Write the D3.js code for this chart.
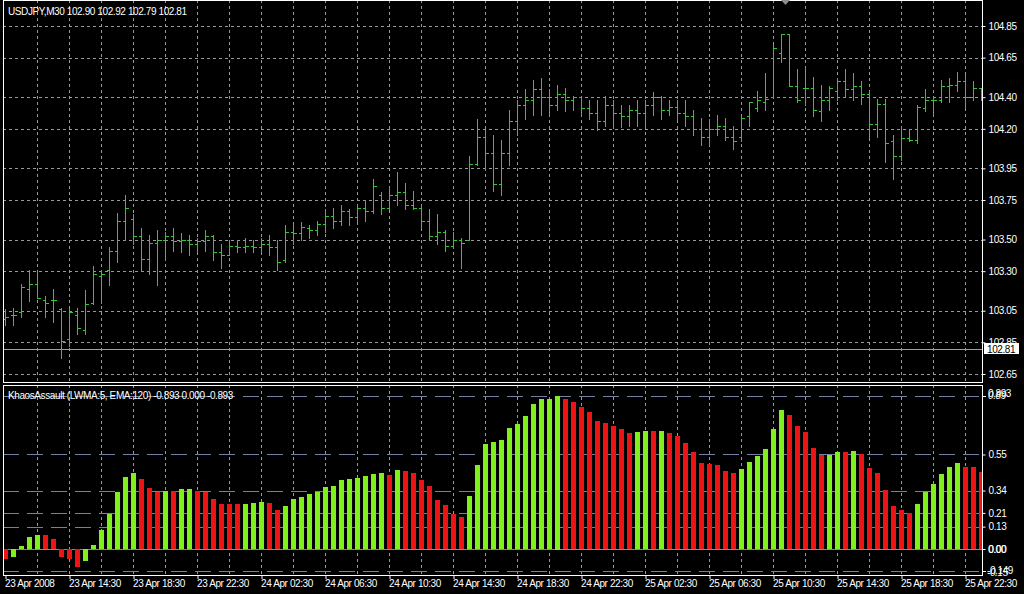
<!DOCTYPE html>
<html><head><meta charset="utf-8">
<script src="https://cdn.jsdelivr.net/npm/d3@7"></script>
<style>
html,body{margin:0;padding:0;background:#000;}
svg{display:block;}
text{font-family:"Liberation Sans",Arial,sans-serif;font-size:10px;fill:#fff;letter-spacing:-0.4px;}
</style></head><body>
<svg id="c" width="1024" height="594"></svg>
<script>
const symbolLabel = "USDJPY,M30  102.90 102.92 102.79 102.81";
const indicatorLabel = "KhaosAssault (LWMA:5, EMA:120) -0.893 0.000 -0.893";
const timeLabels = ["23 Apr 2008","23 Apr 14:30","23 Apr 18:30","23 Apr 22:30","24 Apr 02:30","24 Apr 06:30","24 Apr 10:30","24 Apr 14:30","24 Apr 18:30","24 Apr 22:30","25 Apr 02:30","25 Apr 06:30","25 Apr 10:30","25 Apr 14:30","25 Apr 18:30","25 Apr 22:30"];
const priceTicks = [104.85,104.65,104.40,104.20,103.95,103.75,103.50,103.30,103.05,102.85,102.65];
const lastPrice = 102.81;
const levelTicks = [0.55,0.34,0.21,0.13,0.00];
const levelLines = [0.893,0.55,0.34,0.21,0.13,-0.13];

const open = [103.00,103.02,103.04,103.19,103.22,103.12,103.12,103.06,102.87,103.02,102.93,103.10,103.27,103.31,
103.43,103.62,103.63,103.52,103.38,103.48,103.50,103.52,103.49,103.50,103.47,103.49,103.52,103.42,103.40,103.46,
103.45,103.46,103.45,103.47,103.45,103.37,103.55,103.54,103.57,103.56,103.60,103.65,103.62,103.68,103.64,103.70,
103.68,103.78,103.70,103.78,103.80,103.72,103.70,103.62,103.52,103.55,103.46,103.50,103.50,103.98,104.15,104.05,
103.85,104.05,104.25,104.35,104.38,104.45,104.40,104.35,104.42,104.38,104.40,104.33,104.30,104.25,104.35,104.30,
104.28,104.32,104.30,104.35,104.40,104.32,104.34,104.30,104.28,104.20,104.15,104.20,104.22,104.15,
104.15,104.28,104.33,104.37,104.40,104.68,104.80,104.47,104.46,104.46,104.31,104.38,104.44,104.50,104.45,104.47,
104.42,104.23,104.36,104.12,104.03,104.14,104.13,104.33,104.38,104.38,104.47,104.48,104.50,104.40,104.46];
const high = [103.06,103.07,103.22,103.31,103.29,103.14,103.19,103.07,103.06,103.07,103.18,103.33,103.31,103.45,
103.67,103.78,103.66,103.57,103.53,103.56,103.55,103.57,103.54,103.53,103.51,103.56,103.53,103.47,103.50,103.50,
103.51,103.50,103.51,103.53,103.50,103.59,103.59,103.61,103.59,103.62,103.69,103.70,103.72,103.69,103.72,103.75,
103.88,103.80,103.83,103.93,103.86,103.81,103.72,103.69,103.66,103.56,103.55,103.51,104.03,104.26,104.19,104.16,
104.13,104.32,104.38,104.45,104.51,104.52,104.45,104.48,104.46,104.41,104.41,104.38,104.38,104.41,104.38,104.35,
104.35,104.38,104.38,104.43,104.41,104.38,104.38,104.38,104.32,104.27,104.26,104.29,104.27,104.22,
104.28,104.37,104.44,104.55,104.73,104.80,104.80,104.58,104.59,104.53,104.48,104.47,104.52,104.58,104.55,104.50,
104.44,104.39,104.39,104.16,104.21,104.20,104.35,104.45,104.40,104.51,104.52,104.56,104.54,104.50,104.46];
const low = [102.96,102.96,103.01,103.11,103.13,103.01,102.98,102.75,102.83,102.90,102.90,103.09,103.10,103.21,
103.36,103.50,103.47,103.31,103.28,103.21,103.37,103.43,103.42,103.40,103.42,103.43,103.37,103.32,103.40,103.42,
103.42,103.42,103.43,103.40,103.31,103.36,103.47,103.50,103.51,103.53,103.55,103.57,103.59,103.59,103.61,103.62,
103.67,103.66,103.69,103.72,103.69,103.69,103.57,103.50,103.47,103.43,103.45,103.32,103.50,103.97,103.94,103.81,
103.78,103.97,104.16,104.26,104.29,104.29,104.29,104.32,104.31,104.32,104.29,104.26,104.19,104.22,104.22,104.21,
104.22,104.22,104.22,104.29,104.26,104.29,104.26,104.22,104.16,104.10,104.10,104.16,104.13,104.07,
104.12,104.22,104.31,104.32,104.40,104.62,104.47,104.37,104.35,104.28,104.25,104.32,104.38,104.41,104.38,104.36,
104.15,104.15,103.99,103.88,104.00,104.12,104.11,104.31,104.29,104.37,104.37,104.44,104.34,104.38,104.38];
const close = [103.01,103.02,103.20,103.22,103.13,103.10,103.12,102.86,103.04,102.94,103.09,103.28,103.28,103.43,
103.62,103.70,103.52,103.38,103.48,103.50,103.52,103.49,103.50,103.47,103.49,103.52,103.42,103.40,103.46,103.45,
103.46,103.45,103.47,103.45,103.36,103.55,103.54,103.58,103.56,103.60,103.65,103.62,103.68,103.64,103.70,103.68,
103.84,103.70,103.78,103.80,103.72,103.70,103.62,103.52,103.55,103.46,103.50,103.48,103.98,104.15,104.05,103.85,
104.05,104.25,104.35,104.38,104.45,104.40,104.35,104.42,104.38,104.40,104.33,104.30,104.25,104.35,104.30,104.28,
104.32,104.30,104.35,104.40,104.32,104.34,104.30,104.28,104.20,104.15,104.20,104.22,104.15,104.12,
104.27,104.37,104.38,104.39,104.71,104.80,104.47,104.38,104.46,104.32,104.38,104.46,104.50,104.45,104.47,104.42,
104.23,104.36,104.11,104.03,104.14,104.13,104.34,104.38,104.38,104.47,104.48,104.50,104.40,104.46,104.40];

const khaos = [-0.058,-0.048,0.017,0.068,0.081,0.081,0.058,-0.045,-0.060,-0.103,
-0.068,0.021,0.110,0.205,0.333,0.419,0.442,0.405,0.355,0.333,
0.337,0.337,0.347,0.347,0.337,0.331,0.291,0.262,0.262,0.262,
0.262,0.267,0.273,0.267,0.227,0.250,0.289,0.302,0.320,0.331,
0.360,0.366,0.399,0.407,0.413,0.424,0.436,0.440,0.430,0.457,
0.452,0.440,0.401,0.366,0.285,0.256,0.205,0.186,0.308,0.488,
0.610,0.622,0.634,0.703,0.727,0.773,0.843,0.872,0.872,0.893,
0.872,0.855,0.826,0.797,0.744,0.733,0.715,0.698,0.674,0.680,
0.686,0.686,0.686,0.674,0.657,0.616,0.564,0.500,0.494,0.488,
0.453,0.442,0.465,0.506,0.541,0.581,0.698,0.808,0.779,0.715,
0.680,0.587,0.547,0.547,0.564,0.564,0.570,0.552,0.471,0.442,
0.341,0.250,0.227,0.207,0.262,0.331,0.378,0.436,0.477,0.500,
0.477,0.477,0.448];
const khaosUp = [0,1,1,1,1,0,0,0,0,0, 1,1,1,1,1,1,1,0,0,0, 1,0,1,1,0,0,0,0,0,0,
1,1,1,0,0,1,1,1,1,1, 1,1,1,1,1,1,1,1,0,1, 0,0,0,0,0,0,0,0,1,1,
1,1,1,1,1,1,1,1,1,1, 0,0,0,0,0,0,0,0,0,1, 1,0,1,0,0,0,0,0,0,0,
0,0,1,1,1,1,1,1,0,0, 0,0,0,1,1,0,1,0,0,0, 0,0,0,0,1,1,1,1,1,1, 0,0,0];

const svg = d3.select("#c");
const W = 1024, H = 594;
const L = 3, R = 982, T = 0, B1 = 382, T2 = 385, B2 = 575;
svg.append("rect").attr("width", W).attr("height", H).attr("fill", "#000");

const n = close.length;
const x = d3.scaleLinear().domain([0, n - 1]).range([5, 5 + 8 * (n - 1)]);
const yP = d3.scaleLinear().domain([102.65, 104.85]).range([374, 26]);
const yK = d3.scaleLinear().domain([0, 0.893]).range([549, 395.5]);
const gridColor = "#9a9a9a", upColor = "#32c832";

const defs = svg.append("defs");
defs.append("clipPath").attr("id", "c1").append("rect").attr("x", L + 1).attr("y", T + 1).attr("width", R - L - 1).attr("height", B1 - T - 1);
defs.append("clipPath").attr("id", "c2").append("rect").attr("x", L + 1).attr("y", T2 + 1).attr("width", R - L - 1).attr("height", B2 - T2 - 1);

const gridIdx = d3.range(4, n, 4);
const g1 = svg.append("g").attr("clip-path", "url(#c1)").attr("shape-rendering", "crispEdges");
g1.selectAll("line.h").data(priceTicks).join("line")
  .attr("x1", L).attr("x2", R).attr("y1", d => Math.round(yP(d)) + 0.5).attr("y2", d => Math.round(yP(d)) + 0.5)
  .attr("stroke", gridColor).attr("stroke-dasharray", "3,3");
g1.selectAll("line.v").data(gridIdx).join("line")
  .attr("x1", d => x(d) + 0.5).attr("x2", d => x(d) + 0.5).attr("y1", T).attr("y2", B1)
  .attr("stroke", gridColor).attr("stroke-dasharray", "3,3");
g1.append("line").attr("x1", L).attr("x2", R).attr("y1", Math.round(yP(lastPrice)) + 0.5).attr("y2", Math.round(yP(lastPrice)) + 0.5)
  .attr("stroke", "#a0a0a0");
const py = v => Math.round(yP(v)) + 0.5;
g1.append("g").selectAll("path").data(d3.range(n)).join("path")
  .attr("d", i => {
    const cx = x(i) + 0.5;
    return `M${cx},${Math.round(yP(high[i]))}V${Math.round(yP(low[i])) + 1}` +
           `M${cx - 2.5},${py(open[i])}H${cx}` +
           `M${cx},${py(close[i])}H${cx + 3}`;
  })
  .attr("stroke", upColor).attr("fill", "none");

const g2 = svg.append("g").attr("clip-path", "url(#c2)").attr("shape-rendering", "crispEdges");
g2.selectAll("line.v").data(gridIdx).join("line")
  .attr("x1", d => x(d) + 0.5).attr("x2", d => x(d) + 0.5).attr("y1", T2).attr("y2", B2)
  .attr("stroke", gridColor).attr("stroke-dasharray", "3,3");
g2.selectAll("line.lv").data(levelLines).join("line")
  .attr("x1", L).attr("x2", R).attr("y1", d => Math.round(yK(d)) + 0.5).attr("y2", d => Math.round(yK(d)) + 0.5)
  .attr("stroke", "#7382a0").attr("stroke-dasharray", "16,8");
g2.append("line").attr("x1", L).attr("x2", R).attr("y1", Math.round(yK(0)) + 0.5).attr("y2", Math.round(yK(0)) + 0.5)
  .attr("stroke", "#8a8a8a");
g2.selectAll("rect.k").data(khaos).join("rect")
  .attr("x", (d, i) => x(i) - 2).attr("width", 5)
  .attr("y", d => Math.round(Math.min(yK(d), yK(0))))
  .attr("height", d => Math.max(1, Math.round(Math.abs(yK(d) - yK(0)))))
  .attr("fill", (d, i) => khaosUp[i] ? "#7ff01c" : "#ec1414");

const bd = svg.append("g").attr("fill", "none").attr("stroke", "#fff").attr("shape-rendering", "crispEdges");
bd.append("rect").attr("x", L + 0.5).attr("y", T + 0.5).attr("width", R - L).attr("height", B1 - T);
bd.append("rect").attr("x", L + 0.5).attr("y", T2 + 0.5).attr("width", R - L).attr("height", B2 - T2);

const axP = d3.axisRight(yP).tickValues(priceTicks).tickSize(3).tickPadding(3).tickFormat(d3.format(".2f"));
const gA = svg.append("g").attr("transform", `translate(${R + 0.5},0)`).call(axP);
gA.select(".domain").remove();
gA.selectAll("line").attr("stroke", "#fff");
gA.selectAll("text").attr("fill", "#fff").style("font-family", "Liberation Sans").style("font-size", "10px");

const lpY = yP(lastPrice);
svg.append("rect").attr("x", R + 2).attr("y", Math.round(lpY) - 6).attr("width", 35).attr("height", 11).attr("fill", "#fff");
svg.append("text").attr("x", R + 5).attr("y", Math.round(lpY) + 3.5).style("fill", "#000").text(d3.format(".2f")(lastPrice));

const axK = d3.axisRight(yK).tickValues(levelTicks).tickSize(3).tickPadding(3).tickFormat(d3.format(".2f"));
const gK = svg.append("g").attr("transform", `translate(${R + 0.5},0)`).call(axK);
gK.select(".domain").remove();
gK.selectAll("line").attr("stroke", "#fff");
gK.selectAll("text").attr("fill", "#fff").style("font-family", "Liberation Sans").style("font-size", "10px");
svg.append("text").attr("x", R + 6).attr("y", yK(0) + 3.5).text("0.00");
svg.append("text").attr("x", R + 6).attr("y", yK(0.893) + 1).text("0.893");
svg.append("text").attr("x", R + 6).attr("y", yK(0.893) + 3.5).style("font-style", "italic").text("0.89");
svg.append("text").attr("x", R + 5).attr("y", yK(-0.13) + 3).text("-0.149");
svg.append("text").attr("x", R + 5).attr("y", yK(-0.13) + 5).style("font-style", "italic").text("-0.15");
svg.append("line").attr("x1", R).attr("x2", R + 4).attr("y1", Math.round(yK(0.893)) + 0.5).attr("y2", Math.round(yK(0.893)) + 0.5).attr("stroke", "#fff");
svg.append("line").attr("x1", R).attr("x2", R + 4).attr("y1", Math.round(yK(-0.13)) + 0.5).attr("y2", Math.round(yK(-0.13)) + 0.5).attr("stroke", "#fff");

const axT = d3.axisBottom(x).tickValues(d3.range(0, n, 8)).tickSize(4).tickPadding(2).tickFormat((d, i) => timeLabels[i]);
const gT = svg.append("g").attr("transform", `translate(0.5,${B2})`).call(axT);
gT.select(".domain").remove();
gT.selectAll("line").attr("stroke", "#fff");
gT.selectAll("text").attr("fill", "#fff").attr("text-anchor", "start").attr("dx", "-1").attr("dy", "0.6em")
  .style("font-family", "Liberation Sans").style("font-size", "10px");

svg.append("text").attr("x", 8).attr("y", 14.5).text(symbolLabel);
svg.append("text").attr("x", 8).attr("y", 399).text(indicatorLabel);

svg.append("path").attr("d", "M781,0H790L785.5,5Z").attr("fill", "#8c8c8c");
</script>
</body></html>
